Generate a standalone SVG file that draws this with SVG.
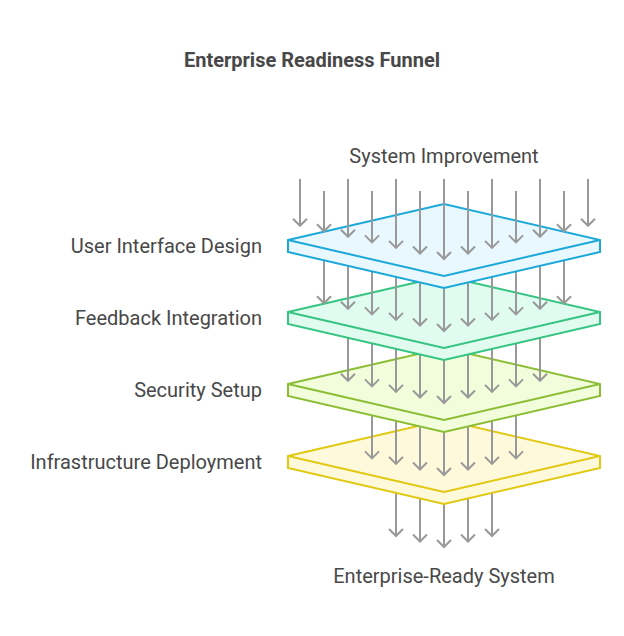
<svg xmlns="http://www.w3.org/2000/svg" width="624" height="636" viewBox="0 0 624 636">
<style>
text{font-family:Roboto,"Liberation Sans",sans-serif;fill:#484848;font-size:20px}
.t{font-weight:bold;text-anchor:middle}
.l{text-anchor:end}
.c{text-anchor:middle}
.a{fill:none;stroke:#999999;stroke-width:2}
.s{stroke-width:2;stroke-linejoin:miter}
</style>
<rect width="624" height="636" fill="#ffffff"/>
<text class="t" x="312" y="67">Enterprise Readiness Funnel</text>
<text class="c" x="444" y="163">System Improvement</text>
<text class="c" x="444" y="583">Enterprise-Ready System</text>
<g id="connectors-bottom">
<path class="a" d="M396 456V536M389 529L396 536L403 529"/>
<path class="a" d="M420 456V541.5M413 534.5L420 541.5L427 534.5"/>
<path class="a" d="M444 456V547M437 540L444 547L451 540"/>
<path class="a" d="M468 456V541.5M461 534.5L468 541.5L475 534.5"/>
<path class="a" d="M492 456V536M485 529L492 536L499 529"/>
</g>
<g id="layer4">
<path class="s" fill="#FEF9DA" stroke="#E1C913" d="M288 456L444 420L600 456V468L444 504L288 468Z"/>
<path class="s" fill="none" stroke="#E1C913" d="M288 456L444 492L600 456"/>
<text class="l" x="262" y="469">Infrastructure Deployment</text>
</g>
<g id="connectors-3-4">
<path class="a" d="M372 384V458.4M365 451.4L372 458.4L379 451.4"/>
<path class="a" d="M396 384V463.9M389 456.9L396 463.9L403 456.9"/>
<path class="a" d="M420 384V469.5M413 462.5L420 469.5L427 462.5"/>
<path class="a" d="M444 384V475M437 468L444 475L451 468"/>
<path class="a" d="M468 384V469.5M461 462.5L468 469.5L475 462.5"/>
<path class="a" d="M492 384V463.9M485 456.9L492 463.9L499 456.9"/>
<path class="a" d="M516 384V458.4M509 451.4L516 458.4L523 451.4"/>
</g>
<g id="layer3">
<path class="s" fill="#F2FDDB" stroke="#8CBE35" d="M288 384L444 348L600 384V396L444 432L288 396Z"/>
<path class="s" fill="none" stroke="#8CBE35" d="M288 384L444 420L600 384"/>
<text class="l" x="262" y="397">Security Setup</text>
</g>
<g id="connectors-2-3">
<path class="a" d="M348 312V380.8M341 373.8L348 380.8L355 373.8"/>
<path class="a" d="M372 312V386.4M365 379.4L372 386.4L379 379.4"/>
<path class="a" d="M396 312V391.9M389 384.9L396 391.9L403 384.9"/>
<path class="a" d="M420 312V397.5M413 390.5L420 397.5L427 390.5"/>
<path class="a" d="M444 312V403M437 396L444 403L451 396"/>
<path class="a" d="M468 312V397.5M461 390.5L468 397.5L475 390.5"/>
<path class="a" d="M492 312V391.9M485 384.9L492 391.9L499 384.9"/>
<path class="a" d="M516 312V386.4M509 379.4L516 386.4L523 379.4"/>
<path class="a" d="M540 312V380.8M533 373.8L540 380.8L547 373.8"/>
</g>
<g id="layer2">
<path class="s" fill="#E0FCF0" stroke="#36C481" d="M288 312L444 276L600 312V324L444 360L288 324Z"/>
<path class="s" fill="none" stroke="#36C481" d="M288 312L444 348L600 312"/>
<text class="l" x="262" y="325">Feedback Integration</text>
</g>
<g id="connectors-1-2">
<path class="a" d="M324 240V303.3M317 296.3L324 303.3L331 296.3"/>
<path class="a" d="M348 240V308.8M341 301.8L348 308.8L355 301.8"/>
<path class="a" d="M372 240V314.4M365 307.4L372 314.4L379 307.4"/>
<path class="a" d="M396 240V319.9M389 312.9L396 319.9L403 312.9"/>
<path class="a" d="M420 240V325.5M413 318.5L420 325.5L427 318.5"/>
<path class="a" d="M444 240V331M437 324L444 331L451 324"/>
<path class="a" d="M468 240V325.5M461 318.5L468 325.5L475 318.5"/>
<path class="a" d="M492 240V319.9M485 312.9L492 319.9L499 312.9"/>
<path class="a" d="M516 240V314.4M509 307.4L516 314.4L523 307.4"/>
<path class="a" d="M540 240V308.8M533 301.8L540 308.8L547 301.8"/>
<path class="a" d="M564 240V303.3M557 296.3L564 303.3L571 296.3"/>
</g>
<g id="layer1">
<path class="s" fill="#E8F8FE" stroke="#1CA9DA" d="M288 240L444 204L600 240V252L444 288L288 252Z"/>
<path class="s" fill="none" stroke="#1CA9DA" d="M288 240L444 276L600 240"/>
<text class="l" x="262" y="253">User Interface Design</text>
</g>
<g id="connectors-top">
<path class="a" d="M300 179V225.8M293 218.8L300 225.8L307 218.8"/>
<path class="a" d="M324 191V231.3M317 224.3L324 231.3L331 224.3"/>
<path class="a" d="M348 179V236.8M341 229.8L348 236.8L355 229.8"/>
<path class="a" d="M372 191V242.4M365 235.4L372 242.4L379 235.4"/>
<path class="a" d="M396 179V247.9M389 240.9L396 247.9L403 240.9"/>
<path class="a" d="M420 191V253.5M413 246.5L420 253.5L427 246.5"/>
<path class="a" d="M444 179V259M437 252L444 259L451 252"/>
<path class="a" d="M468 191V253.5M461 246.5L468 253.5L475 246.5"/>
<path class="a" d="M492 179V247.9M485 240.9L492 247.9L499 240.9"/>
<path class="a" d="M516 191V242.4M509 235.4L516 242.4L523 235.4"/>
<path class="a" d="M540 179V236.8M533 229.8L540 236.8L547 229.8"/>
<path class="a" d="M564 191V231.3M557 224.3L564 231.3L571 224.3"/>
<path class="a" d="M588 179V225.8M581 218.8L588 225.8L595 218.8"/>
</g>
</svg>
